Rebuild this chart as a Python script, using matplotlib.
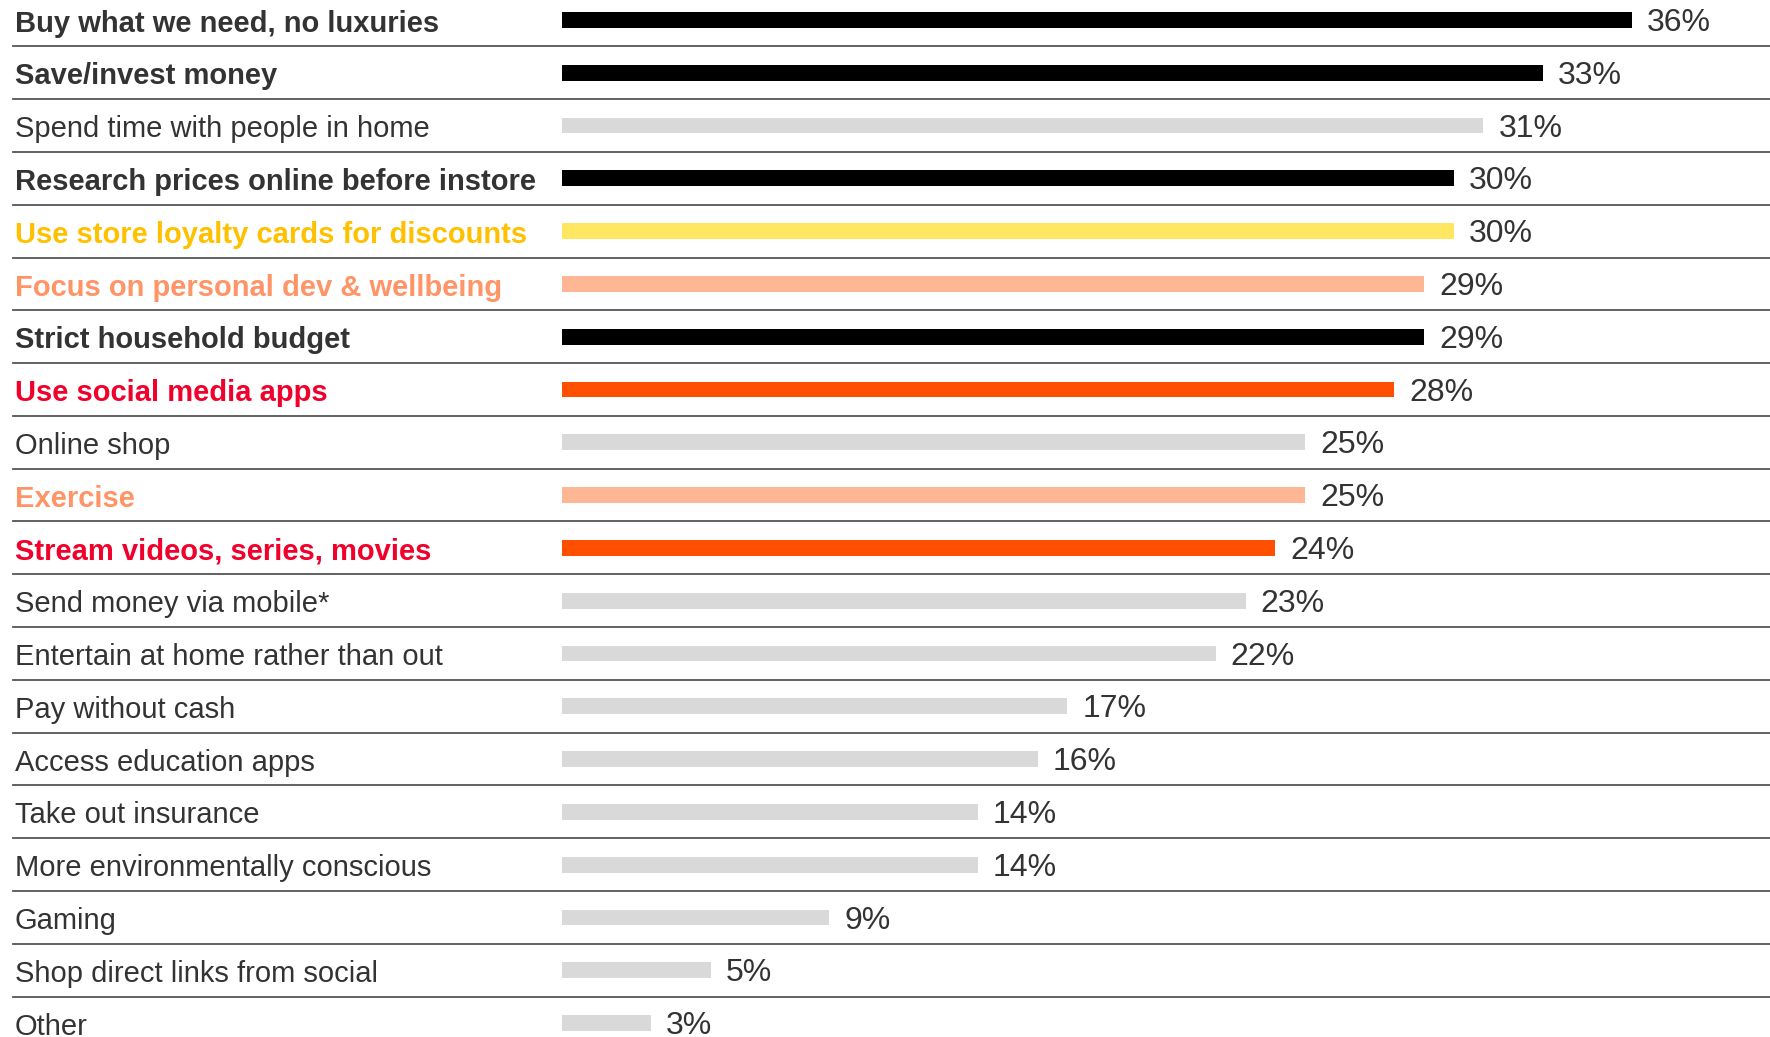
import matplotlib.pyplot as plt
from matplotlib.transforms import blended_transform_factory

# Survey answers, top to bottom
categories = [
    "Buy what we need, no luxuries",
    "Save/invest money",
    "Spend time with people in home",
    "Research prices online before instore",
    "Use store loyalty cards for discounts",
    "Focus on personal dev & wellbeing",
    "Strict household budget",
    "Use social media apps",
    "Online shop",
    "Exercise",
    "Stream videos, series, movies",
    "Send money via mobile*",
    "Entertain at home rather than out",
    "Pay without cash",
    "Access education apps",
    "Take out insurance",
    "More environmentally conscious",
    "Gaming",
    "Shop direct links from social",
    "Other",
]
values = [36, 33, 31, 30, 30, 29, 29, 28, 25, 25, 24, 23, 22, 17, 16, 14, 14, 9, 5, 3]

# Highlight group for each row: (bar colour, label colour, bold)
groups = ["money", "money", "plain", "money", "loyalty", "wellbeing", "money", "social",
          "plain", "wellbeing", "social", "plain", "plain", "plain", "plain", "plain",
          "plain", "plain", "plain", "plain"]
styles = {
    "money": ("#000000", "#333333", "bold"),
    "loyalty": ("#ffe762", "#ffc000", "bold"),
    "wellbeing": ("#ffb695", "#ff9466", "bold"),
    "social": ("#fe5000", "#f0002a", "bold"),
    "plain": ("#d9d9d9", "#333333", "normal"),
}

plt.rcParams["font.family"] = ["Liberation Sans", "DejaVu Sans"]

fig = plt.figure(figsize=(17.7, 10.37), dpi=100)
ax = fig.add_axes([562 / 1770, 0, 1 - 562 / 1770, 1])

row_px = 52.8
px_per_pct = 29.72
n = len(categories)
ax.set_xlim(0, (1770 - 562) / px_per_pct)
ax.set_ylim(n - 1 + (1037 - 1023) / row_px, -20 / row_px)
ax.axis("off")

ypos = list(range(n))
bar_colors = [styles[g][0] for g in groups]
ax.barh(ypos, values, height=0.30, color=bar_colors)

label_tf = blended_transform_factory(fig.transFigure, ax.transData)
for i, (cat, val, g) in enumerate(zip(categories, values, groups)):
    _, txt_color, weight = styles[g]
    ax.text(15 / 1770, i + 0.22, cat, transform=label_tf, ha="left", va="baseline",
            fontsize=21, color=txt_color, fontweight=weight)
    ax.text(val + 15 / px_per_pct, i + 0.21, f"{val}%", ha="left", va="baseline",
            fontsize=23, color="#333333")
    # separator under each row
    if i < n - 1:
        ax.plot([13 / 1770, 1], [i + 0.5, i + 0.5], transform=label_tf,
                color="#555555", linewidth=1.3, clip_on=False)

fig.savefig("out.png", dpi=100)
